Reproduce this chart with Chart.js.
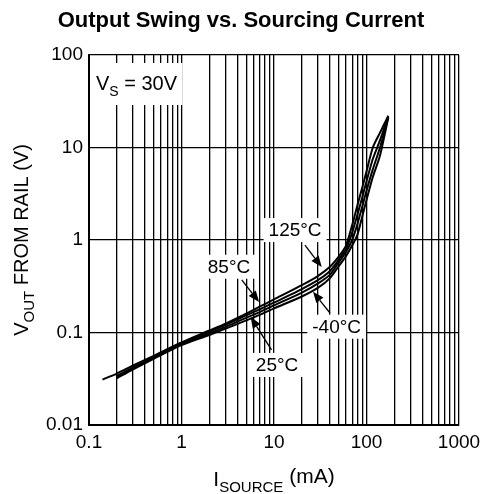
<!DOCTYPE html>
<html>
<head>
<meta charset="utf-8">
<script src="https://cdn.jsdelivr.net/npm/chart.js@4.4.1/dist/chart.umd.min.js"></script>
<style>
  html, body { margin: 0; padding: 0; background: #fff; }
  #wrap { width: 480px; height: 494px; }
</style>
</head>
<body>
<div id="wrap"><canvas id="chart"></canvas></div>
<script>
// source current (mA)
const iSource = [0.14, 0.2, 0.3, 0.5, 1, 2, 3, 5, 7, 10, 20, 30, 40, 50, 60, 70, 80, 90, 100, 117, 140, 172];

// output swing from rail (V)
const v125 = [0.031, 0.036, 0.044, 0.056, 0.078, 0.105, 0.125, 0.16, 0.19, 0.228, 0.325, 0.41, 0.51, 0.66, 0.87, 1.45, 2.4, 3.7, 5.5, 10, 14.5, 22];
const v85  = [null, 0.034, 0.042, 0.054, 0.077, 0.102, 0.121, 0.153, 0.178, 0.21, 0.295, 0.37, 0.46, 0.61, 0.80, 1.2, 1.9, 2.9, 4.3, 7.5, 12, 22];
const v25  = [null, 0.033, 0.041, 0.053, 0.075, 0.098, 0.115, 0.144, 0.166, 0.196, 0.27, 0.34, 0.42, 0.57, 0.74, 1.0, 1.5, 2.3, 3.4, 5.8, 10, 21.5];
const vM40 = [null, 0.032, 0.040, 0.052, 0.073, 0.094, 0.11, 0.135, 0.155, 0.182, 0.245, 0.305, 0.385, 0.52, 0.67, 0.87, 1.15, 1.8, 2.7, 4.8, 8.2, 21];

const seriesNames = ['125°C', '85°C', '25°C', '-40°C'];

// axis ticks
const xTicks = [];
[0.1, 1, 10, 100].forEach(d => { for (let k = 1; k < 10; k++) xTicks.push(+(d * k).toPrecision(2)); });
xTicks.push(1000);
const xTickLabels = [0.1, 1, 10, 100, 1000];
const yTicks = [0.01, 0.1, 1, 10, 100];

const FONT = '"Liberation Sans", Arial, sans-serif';

// label boxes and arrows, in data coordinates
const notes = [
  { text: '125°C', x: 16.9, y: 1.28, from: [21.6, 0.88], to: [32.8, 0.51] },
  { text: '85°C',  x: 3.26, y: 0.514, from: [4.48, 0.37], to: [6.9, 0.214] },
  { text: '25°C',  x: 10.8, y: 0.0446, from: [9.4, 0.0648], to: [5.6, 0.147] },
  { text: '-40°C', x: 47.6, y: 0.1155, from: [40.3, 0.1626], to: [26.4, 0.276] }
];

const drawArrow = (ctx, x1, y1, x2, y2) => {
  const a = Math.atan2(y2 - y1, x2 - x1);
  const len = 11, w = 4.5;
  ctx.beginPath();
  ctx.moveTo(x1, y1);
  ctx.lineTo(x2 - Math.cos(a) * len, y2 - Math.sin(a) * len);
  ctx.lineWidth = 1.3;
  ctx.strokeStyle = '#000';
  ctx.stroke();
  ctx.beginPath();
  ctx.moveTo(x2, y2);
  ctx.lineTo(x2 - Math.cos(a) * len - Math.sin(a) * w, y2 - Math.sin(a) * len + Math.cos(a) * w);
  ctx.lineTo(x2 - Math.cos(a) * len + Math.sin(a) * w, y2 - Math.sin(a) * len - Math.cos(a) * w);
  ctx.closePath();
  ctx.fillStyle = '#000';
  ctx.fill();
};

const notesPlugin = {
  id: 'notes',
  beforeDatasetsDraw(chart) {
    const { ctx, scales: { x, y }, chartArea } = chart;
    ctx.save();
    ctx.font = '19px ' + FONT;
    // VS box
    ctx.fillStyle = '#fff';
    ctx.fillRect(chartArea.left + 1.5, chartArea.top + 8, 92, 42);
    notes.forEach(n => {
      const px = x.getPixelForValue(n.x), py = y.getPixelForValue(n.y);
      const w = ctx.measureText(n.text).width;
      ctx.fillRect(px - w / 2 - 5, py - 12, w + 10, 24);
    });
    ctx.restore();
  },
  afterDatasetsDraw(chart) {
    const { ctx, scales: { x, y }, chartArea } = chart;
    ctx.save();
    ctx.fillStyle = '#000';
    notes.forEach(n => {
      drawArrow(ctx, x.getPixelForValue(n.from[0]), y.getPixelForValue(n.from[1]),
        x.getPixelForValue(n.to[0]), y.getPixelForValue(n.to[1]));
    });
    ctx.font = '19px ' + FONT;
    ctx.textAlign = 'center';
    ctx.textBaseline = 'middle';
    notes.forEach(n => {
      ctx.fillText(n.text, x.getPixelForValue(n.x), y.getPixelForValue(n.y) + 1);
    });
    // V_S = 30V
    ctx.textAlign = 'left';
    ctx.textBaseline = 'alphabetic';
    ctx.font = '20px ' + FONT;
    let tx = chartArea.left + 7, base = chartArea.top + 35;
    ctx.fillText('V', tx, base);
    tx += ctx.measureText('V').width;
    ctx.font = '14px ' + FONT;
    ctx.fillText('S', tx, base + 6);
    tx += ctx.measureText('S').width;
    ctx.font = '20px ' + FONT;
    ctx.fillText(' = 30V', tx, base);
    ctx.restore();
  },
  afterDraw(chart) {
    const { ctx, chartArea } = chart;
    ctx.save();
    ctx.fillStyle = '#000';
    // title
    ctx.font = 'bold 22px ' + FONT;
    ctx.textAlign = 'center';
    ctx.textBaseline = 'alphabetic';
    ctx.fillText('Output Swing vs. Sourcing Current', 241, 27);
    // x axis title
    const big = '21px ' + FONT, small = '15px ' + FONT;
    const parts = [['I', big, 0], ['SOURCE', small, 6], [' (mA)', big, -3]];
    let total = 0;
    parts.forEach(p => { ctx.font = p[1]; total += ctx.measureText(p[0]).width; });
    let sx = (chartArea.left + chartArea.right) / 2 - total / 2;
    ctx.textAlign = 'left';
    parts.forEach(p => {
      ctx.font = p[1];
      ctx.fillText(p[0], sx, 486 + p[2]);
      sx += ctx.measureText(p[0]).width;
    });
    // y axis title
    const ybig = '20px ' + FONT, ysmall = '15px ' + FONT;
    const yparts = [['V', ybig, 0], ['OUT', ysmall, 6], [' FROM RAIL (V)', ybig, 0]];
    total = 0;
    yparts.forEach(p => { ctx.font = p[1]; total += ctx.measureText(p[0]).width; });
    ctx.translate(28, (chartArea.top + chartArea.bottom) / 2);
    ctx.rotate(-Math.PI / 2);
    let sy = -total / 2;
    yparts.forEach(p => {
      ctx.font = p[1];
      ctx.fillText(p[0], sy, p[2]);
      sy += ctx.measureText(p[0]).width;
    });
    ctx.restore();
  }
};

const lineStyle = {
  borderColor: '#000',
  borderWidth: 2,
  pointRadius: 0,
  tension: 0.25,
  fill: false
};

new Chart(document.getElementById('chart'), {
  type: 'line',
  data: {
    labels: iSource,
    datasets: [v125, v85, v25, vM40].map((vals, i) => ({
      label: seriesNames[i],
      data: vals.map((v, j) => ({ x: iSource[j], y: v })),
      ...lineStyle
    }))
  },
  options: {
    responsive: true,
    maintainAspectRatio: false,
    animation: false,
    layout: { padding: { top: 55, right: 21, left: 0, bottom: 0 } },
    plugins: {
      legend: { display: false },
      title: { display: false },
      tooltip: { enabled: false }
    },
    scales: {
      x: {
        type: 'logarithmic',
        min: 0.1,
        max: 1000,
        afterBuildTicks: scale => { scale.ticks = xTicks.map(v => ({ value: v })); },
        afterFit: scale => {
          scale.height = 69;
          scale.paddingLeft = 0;
          scale.paddingRight = 0;
        },
        ticks: {
          autoSkip: false,
          maxRotation: 0,
          padding: 6,
          color: '#000',
          font: { size: 19, family: FONT },
          callback: v => xTickLabels.includes(v) ? String(v) : ''
        },
        grid: { color: '#000', lineWidth: 1.3, drawTicks: false },
        border: { color: '#000', width: 2 }
      },
      y: {
        type: 'logarithmic',
        min: 0.01,
        max: 100,
        afterBuildTicks: scale => { scale.ticks = yTicks.map(v => ({ value: v })); },
        afterFit: scale => {
          scale.width = 89;
          scale.paddingTop = 0;
          scale.paddingBottom = 0;
        },
        ticks: {
          padding: 6,
          color: '#000',
          font: { size: 19, family: FONT },
          callback: v => String(v)
        },
        grid: { color: '#000', lineWidth: 1.3, drawTicks: false },
        border: { color: '#000', width: 2 }
      }
    }
  },
  plugins: [notesPlugin]
});
</script>
</body>
</html>
